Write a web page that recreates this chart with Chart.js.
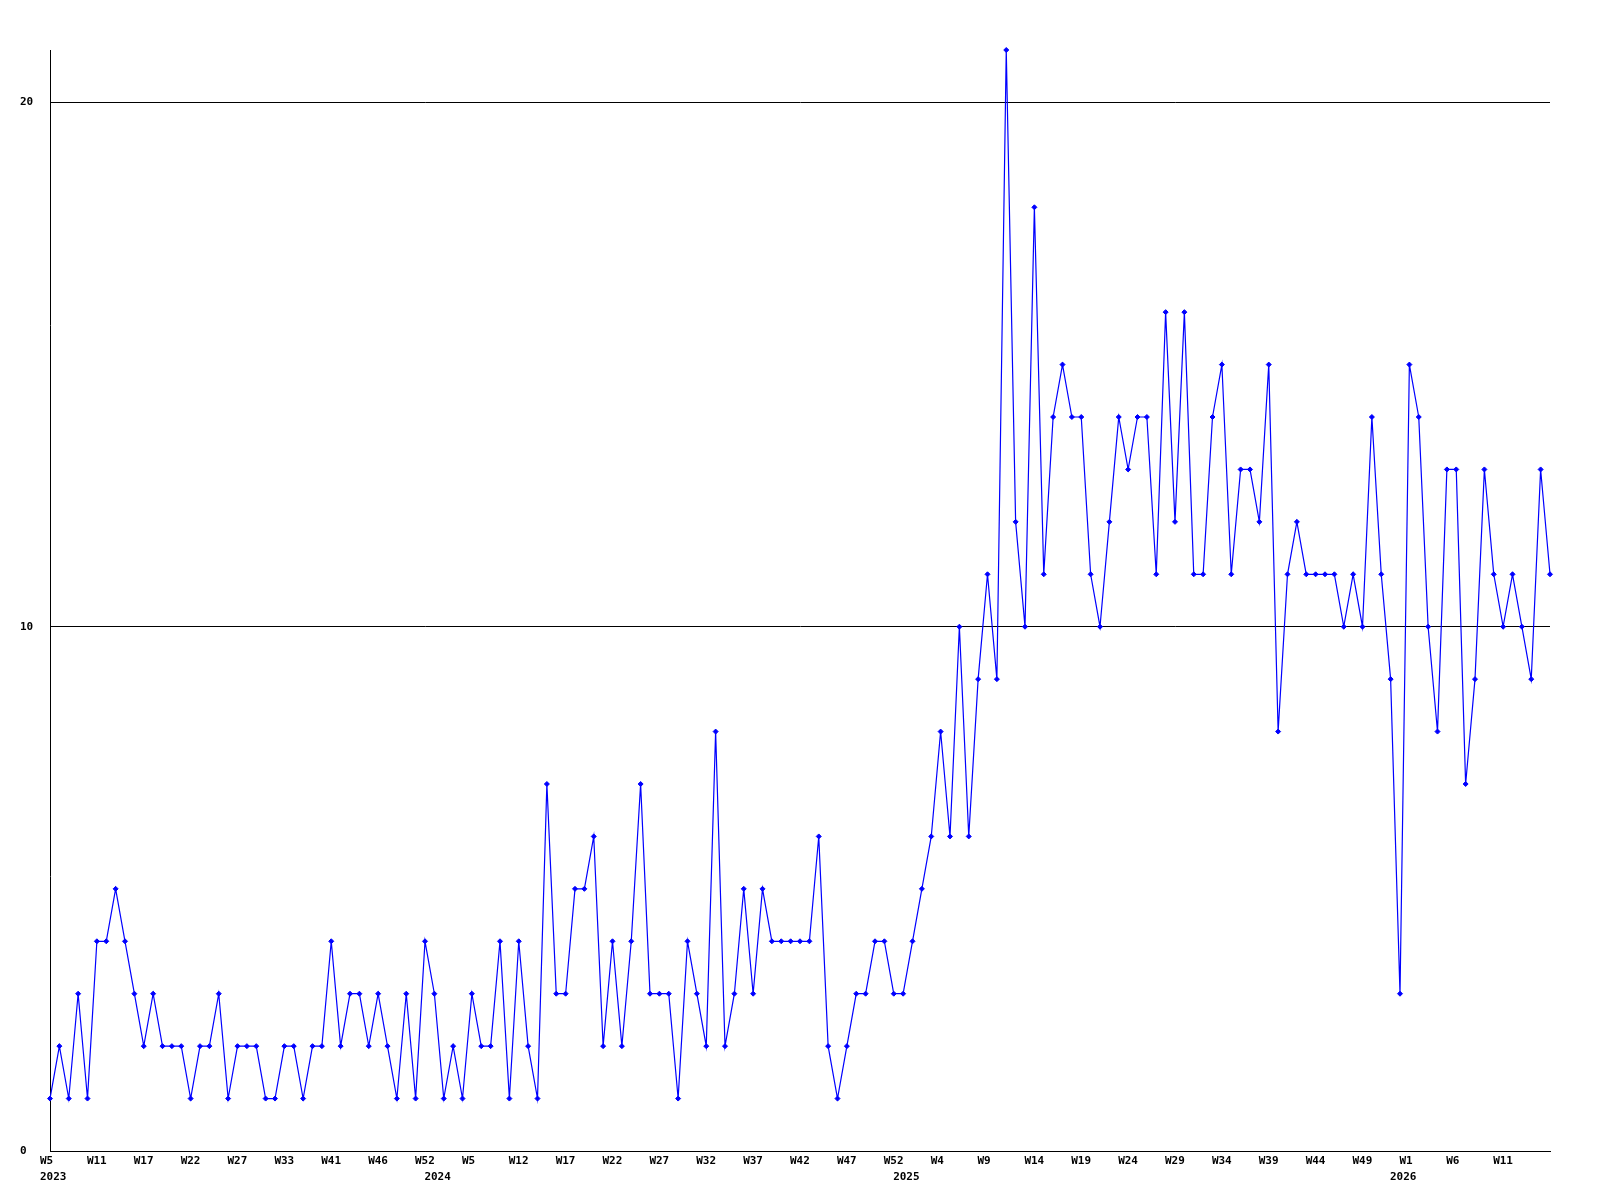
<!DOCTYPE html>
<html>
<head>
<meta charset="utf-8">
<script src="https://cdn.jsdelivr.net/npm/chart.js@4.4.0/dist/chart.umd.min.js"></script>
<style>
    html, body { margin: 0; padding: 0; background: #ffffff; }
    #wrap { width: 1600px; height: 1200px; }
</style>
</head>
<body>
<div id="wrap"><canvas id="weeklyChart" width="1600" height="1200"></canvas></div>
<script>
// Weekly counts, one value per plotted week (2023 W5 .. 2026 W16, missing weeks are skipped).
const counts = [
    1, 2, 1, 3, 1, 4, 4, 5, 4, 3,
    2, 3, 2, 2, 2, 1, 2, 2, 3, 1,
    2, 2, 2, 1, 1, 2, 2, 1, 2, 2,
    4, 2, 3, 3, 2, 3, 2, 1, 3, 1,
    4, 3, 1, 2, 1, 3, 2, 2, 4, 1,
    4, 2, 1, 7, 3, 3, 5, 5, 6, 2,
    4, 2, 4, 7, 3, 3, 3, 1, 4, 3,
    2, 8, 2, 3, 5, 3, 5, 4, 4, 4,
    4, 4, 6, 2, 1, 2, 3, 3, 4, 4,
    3, 3, 4, 5, 6, 8, 6, 10, 6, 9,
    11, 9, 21, 12, 10, 18, 11, 14, 15, 14,
    14, 11, 10, 12, 14, 13, 14, 14, 11, 16,
    12, 16, 11, 11, 14, 15, 11, 13, 13, 12,
    15, 8, 11, 12, 11, 11, 11, 11, 10, 11,
    10, 14, 11, 9, 3, 15, 14, 10, 8, 13,
    13, 7, 9, 13, 11, 10, 11, 10, 9, 13,
    11
];

// Week labels shown on every 5th point.
const weekTicks = [
    'W5', 'W11', 'W17', 'W22', 'W27', 'W33', 'W41', 'W46', 'W52',
    'W5', 'W12', 'W17', 'W22', 'W27', 'W32', 'W37', 'W42', 'W47', 'W52',
    'W4', 'W9', 'W14', 'W19', 'W24', 'W29', 'W34', 'W39', 'W44', 'W49',
    'W1', 'W6', 'W11'
];

// Year labels and the point where each year starts.
const yearTicks = ['2023', '2024', '2025', '2026'];
const yearTickIndex = [0, 41, 91, 144];

const yTicks = [0, 10, 20];
const yMax = 21;

const labelFont = {
    family: "'DejaVu Sans Mono', 'Liberation Mono', monospace",
    size: 11,
    weight: 'bold',
    lineHeight: 1.45
};

const chart = document.getElementById('weeklyChart');
new Chart(chart, {
    type: 'line',
    data: {
        labels: counts.map((c, i) => i),
        datasets: [{
            data: counts,
            borderColor: '#0000ff',
            backgroundColor: '#0000ff',
            borderWidth: 1.2,
            tension: 0,
            fill: false,
            clip: false,
            pointStyle: 'rectRot',
            pointRadius: 2.5,
            pointBorderWidth: 1,
            pointBackgroundColor: '#0000ff',
            pointBorderColor: '#0000ff'
        }]
    },
    options: {
        responsive: false,
        animation: false,
        layout: {
            padding: { left: 20, right: 50, top: 50, bottom: 0 }
        },
        scales: {
            x: {
                offset: false,
                grid: { display: false, drawTicks: false },
                border: { display: true, color: '#000000', width: 1 },
                afterFit: function (scale) {
                    scale.height = 49;
                },
                ticks: {
                    autoSkip: false,
                    maxRotation: 0,
                    minRotation: 0,
                    align: 'start',
                    labelOffset: -10,
                    padding: 2,
                    color: '#000000',
                    font: labelFont,
                    callback: function (value, index) {
                        const week = index % 5 === 0 ? (weekTicks[index / 5] || '') : '';
                        const y = yearTickIndex.indexOf(index);
                        if (y >= 0) {
                            return [week, yearTicks[y]];
                        }
                        return week;
                    }
                }
            },
            y: {
                min: 0,
                max: yMax,
                grid: { color: '#000000', lineWidth: 1, drawTicks: false },
                border: { display: true, color: '#000000', width: 1 },
                afterBuildTicks: function (scale) {
                    scale.ticks = yTicks.map(v => ({ value: v }));
                },
                afterFit: function (scale) {
                    scale.width = 30;
                },
                ticks: {
                    crossAlign: 'far',
                    padding: 0,
                    color: '#000000',
                    font: labelFont
                }
            }
        },
        plugins: {
            legend: { display: false },
            tooltip: { enabled: false },
            title: { display: false }
        }
    }
});
</script>
</body>
</html>
